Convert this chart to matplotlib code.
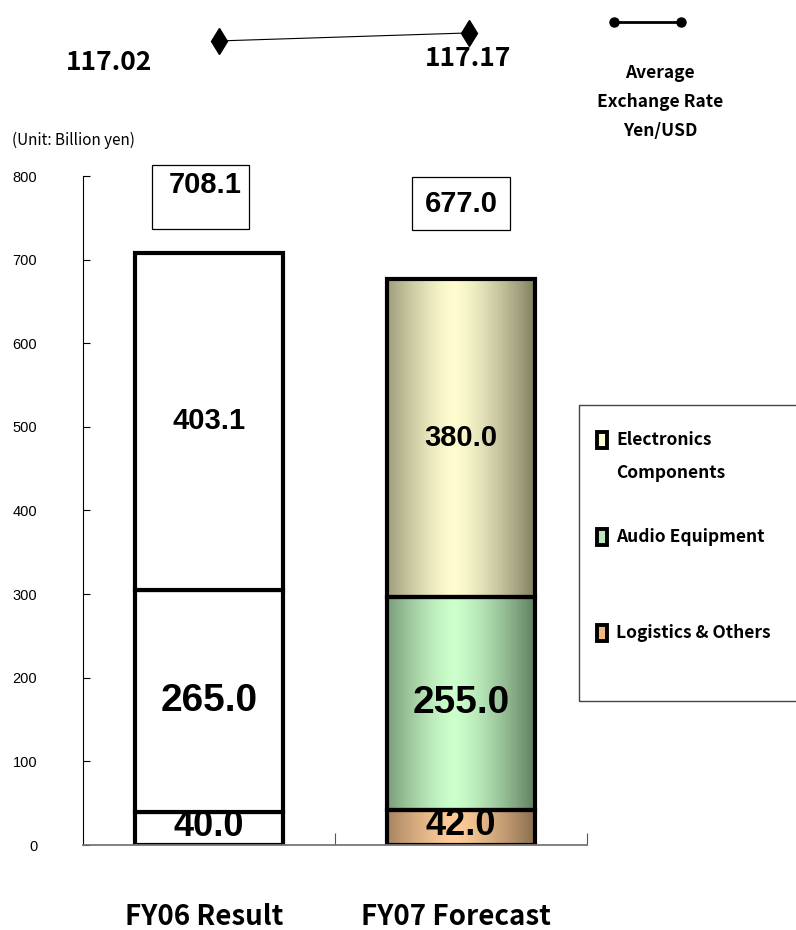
import numpy as np
import matplotlib
matplotlib.use("Agg")
import matplotlib.pyplot as plt
import matplotlib.transforms as mtransforms
from matplotlib.patches import Rectangle
from matplotlib.lines import Line2D
from matplotlib.colors import LinearSegmentedColormap

# net sales by segment, billion yen
categories = ["FY06 Result", "FY07 Forecast"]
segments = ["Logistics & Others", "Audio Equipment", "Electronics\nComponents"]
fy06 = [40.0, 265.0, 403.1]
fy07 = [42.0, 255.0, 380.0]
totals = [708.1, 677.0]
# average exchange rate, yen per USD
fx_rate = [117.02, 117.17]

yticks = [0, 100, 200, 300, 400, 500, 600, 700, 800]

# (edge, centre) colours of the shaded FY07 segments
shades = [("#846a4c", "#ffcc99"), ("#5c7a5c", "#ccffcc"), ("#7c7a5c", "#fffdd0")]

gothic = ["Noto Sans CJK JP", "DejaVu Sans"]
arial = ["Liberation Sans", "DejaVu Sans"]

W, H = 796, 930
fig = plt.figure(figsize=(W / 100, H / 100), dpi=100)

def fx(px):
    return px / W

def fy(px):
    return 1 - px / H

ax = fig.add_axes([fx(83), fy(845), fx(587) - fx(83), fy(176) - fy(845)])
ax.set_xlim(-0.5, 1.5)
ax.set_ylim(0, 800)
for s in ["top", "right"]:
    ax.spines[s].set_visible(False)
ax.spines["left"].set_linewidth(0.8)
ax.spines["bottom"].set_color("#777777")
ax.spines["bottom"].set_linewidth(1.3)
ax.set_yticks(yticks)
ax.set_yticklabels([str(v) for v in yticks], family=arial, fontsize=10.5)
ax.tick_params(axis="y", direction="in", length=5, width=0.8, pad=33)
ax.set_xticks([0.5, 1.5])
ax.set_xticklabels([])
ax.tick_params(axis="x", direction="in", length=9, width=0.8, color="#555555")

bw = 0.59
xs = np.linspace(0, 1, 300)
profile = np.clip(1 - (np.abs(xs - 0.45) / 0.56) ** 1.4, 0, 1)

seg_sizes = [26, 28, 21]
for i, vals in enumerate([fy06, fy07]):
    bottom = 0.0
    for j, v in enumerate(vals):
        x0 = i - bw / 2
        if i == 1:
            cmap = LinearSegmentedColormap.from_list("g", list(shades[j]))
            ax.imshow(profile[None, :], cmap=cmap, vmin=0, vmax=1, aspect="auto",
                      extent=(x0, x0 + bw, bottom, bottom + v), zorder=1,
                      interpolation="bilinear")
        ax.add_patch(Rectangle((x0, bottom), bw, v, facecolor="none" if i == 1 else "white",
                               edgecolor="black", lw=3, zorder=2 if i == 1 else 1.5,
                               joinstyle="miter"))
        ax.text(i, bottom + v / 2 + (2 if j == 0 else 0), f"{v:.1f}", ha="center", va="center",
                family=arial, fontweight="bold", fontsize=seg_sizes[j], zorder=3)
        bottom += v

ax.set_xlim(-0.5, 1.5)
ax.set_ylim(0, 800)

# totals in boxes above the bars
ax.add_patch(Rectangle((-0.226, 737), 0.385, 76, fill=False, ec="black", lw=0.9,
                       clip_on=False))
ax.text(-0.016, 789, f"{totals[0]:.1f}", ha="center", va="center", family=arial,
        fontweight="bold", fontsize=21, clip_on=False)
ax.text(1, 767, f"{totals[1]:.1f}", ha="center", va="center", family=arial,
        fontweight="bold", fontsize=21, clip_on=False,
        bbox=dict(boxstyle="square,pad=0.42", fc="white", ec="black", lw=0.9))

# category labels below the axis
trans = mtransforms.blended_transform_factory(ax.transData, fig.transFigure)
for i, c in enumerate(categories):
    ax.text(i - 0.02, fy(917), c, transform=trans, ha="center", va="center",
            family=gothic, fontweight="bold", fontsize=20)

fig.text(fx(12), fy(140), "(Unit: Billion yen)", family=gothic, fontsize=11, va="center")

# exchange rate line on top
tax = fig.add_axes([fx(83), fy(90), fx(587) - fx(83), fy(10) - fy(90)])
tax.set_xlim(-0.5, 1.5)
tax.set_ylim(116.1, 117.6)
tax.axis("off")
tax.plot([0.04, 1.03], fx_rate, color="black", lw=0.8, marker="d", ms=13,
         mec="black", mfc="black")
tax.annotate(f"{fx_rate[0]:.2f}", (0.04, fx_rate[0]), xytext=(-110, -22),
             textcoords="offset pixels", ha="center", va="center", family=gothic,
             fontweight="bold", fontsize=19)
tax.annotate(f"{fx_rate[1]:.2f}", (1.03, fx_rate[1]), xytext=(0, -26),
             textcoords="offset pixels", ha="center", va="center", family=gothic,
             fontweight="bold", fontsize=19)

# exchange rate legend
fig.add_artist(Line2D([fx(614), fx(681)], [fy(22), fy(22)], color="black", lw=2,
                      marker="o", ms=6.5, mfc="black", mec="black"))
for k, t in enumerate(["Average", "Exchange Rate", "Yen/USD"]):
    fig.text(fx(660), fy(73 + 29 * k), t, ha="center", va="center", family=gothic,
             fontweight="bold", fontsize=12.5)

# segment legend box
fig.add_artist(Rectangle((fx(579), fy(701)), fx(800) - fx(579), fy(405) - fy(701),
                         transform=fig.transFigure, fill=False, ec="#444444", lw=1))
leg_y = [440, 537, 633]
leg_col = [shades[2][1], "#b8e6b8", "#f0b880"]
leg_txt = [segments[2], segments[1], segments[0]]
for y, c, t in zip(leg_y, leg_col, leg_txt):
    fig.add_artist(Rectangle((fx(597), fy(y + 8)), fx(10), fy(0) - fy(16),
                             transform=fig.transFigure, fc=c, ec="black", lw=2.8))
    for k, ln in enumerate(t.split("\n")):
        fig.text(fx(616), fy(y + 33 * k), ln, ha="left", va="center", family=gothic,
                 fontweight="bold", fontsize=12.5)

fig.savefig("out.png", dpi=100)
